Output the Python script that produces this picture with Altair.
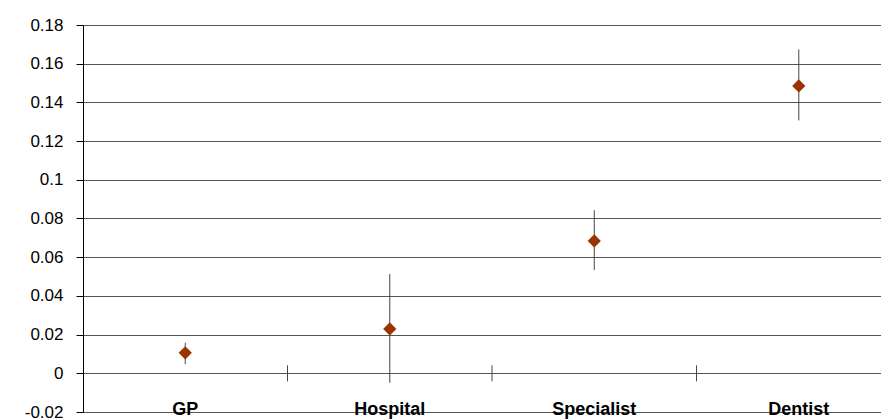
import altair as alt
import pandas as pd

categories = ["GP", "Hospital", "Specialist", "Dentist"]
estimates = [0.0106, 0.0229, 0.0684, 0.1485]
lower = [0.0047, -0.0049, 0.0534, 0.1307]
upper = [0.0158, 0.0513, 0.0843, 0.1674]
y_ticks = [-0.02, 0, 0.02, 0.04, 0.06, 0.08, 0.1, 0.12, 0.14, 0.16, 0.18]
separators = [1, 2, 3]

FONT = "Liberation Sans, Arial, Helvetica, sans-serif"

df = pd.DataFrame({
    "cat": categories,
    "pos": [i + 0.5 for i in range(len(categories))],
    "est": estimates,
    "lo": lower,
    "hi": upper,
})
sep_df = pd.DataFrame({"sep": separators})

xscale = alt.Scale(domain=[0, 3.902], nice=False, zero=False)
yscale = alt.Scale(domain=[-0.02, 0.18], nice=False, zero=False)

y_axis = alt.Axis(
    title="",
    values=y_ticks,
    labelExpr="'' + datum.value",
    labelOverlap=False,
    grid=True,
    gridColor="#555555",
    gridWidth=1,
    domainColor="#000000",
    domainWidth=1,
    tickColor="#000000",
    tickSize=7,
    labelPadding=13,
    labelFontSize=17,
    labelFont=FONT,
    labelColor="#000000",
)

base = alt.Chart(df)

errbars = base.mark_rule(color="#444444", strokeWidth=1).encode(
    x=alt.X("pos:Q", scale=xscale, axis=None),
    y=alt.Y("lo:Q", scale=yscale, axis=y_axis),
    y2="hi:Q",
)

points = base.mark_point(
    shape="diamond", filled=True, size=175, color="#993300", opacity=1
).encode(
    x=alt.X("pos:Q", scale=xscale, axis=None),
    y=alt.Y("est:Q", scale=yscale, axis=y_axis),
)

sep_ticks = alt.Chart(sep_df).mark_rule(
    color="#444444", strokeWidth=1, yOffset=-8, y2Offset=8
).encode(
    x=alt.X("sep:Q", scale=xscale, axis=None),
    y=alt.YDatum(0, scale=yscale, axis=y_axis),
    y2=alt.datum(0),
)

labels = base.mark_text(
    font=FONT, fontSize=18, fontWeight="bold", color="#000000",
    baseline="middle", align="center", dy=-2,
).encode(
    x=alt.X("pos:Q", scale=xscale, axis=None),
    y=alt.YDatum(-0.02, scale=yscale, axis=y_axis),
    text="cat:N",
)

chart = alt.layer(errbars, sep_ticks, points, labels).properties(
    width=798,
    height=387,
    autosize=alt.AutoSizeParams(type="none"),
    padding={"left": 75, "top": 17, "right": 0, "bottom": 8},
).configure_view(strokeOpacity=0)

chart.save("out.html", embed_options={"renderer": "svg", "actions": False})
